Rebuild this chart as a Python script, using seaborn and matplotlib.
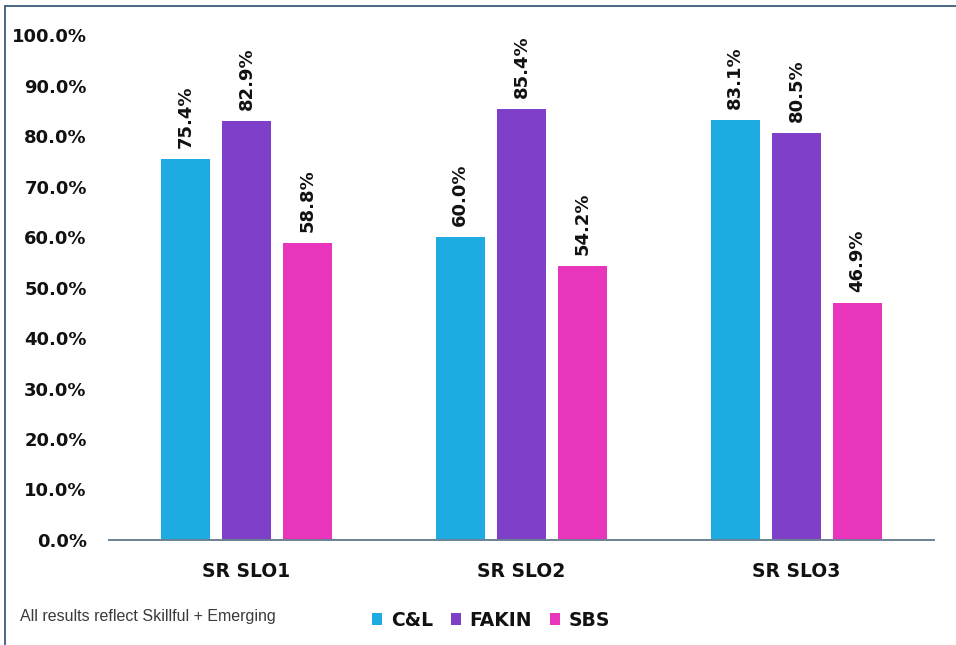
import matplotlib
matplotlib.use("Agg")
import matplotlib.pyplot as plt
from matplotlib.lines import Line2D
import pandas as pd
import seaborn as sns

# Share of students rated Skillful + Emerging, per SLO and department
categories = ["SR SLO1", "SR SLO2", "SR SLO3"]
programs = ["C&L", "FAKIN", "SBS"]
cl_values = [75.4, 60.0, 83.1]
fakin_values = [82.9, 85.4, 80.5]
sbs_values = [58.8, 54.2, 46.9]
y_ticks = [0, 10, 20, 30, 40, 50, 60, 70, 80, 90, 100]
footnote = "All results reflect Skillful + Emerging"

palette = {"C&L": "#1DABE1", "FAKIN": "#7E3FC9", "SBS": "#E935BC"}

df = pd.DataFrame({
    "slo": categories * 3,
    "program": [programs[0]] * 3 + [programs[1]] * 3 + [programs[2]] * 3,
    "value": cl_values + fakin_values + sbs_values,
})

sns.set_theme(style="white")
plt.rcParams["font.family"] = ["DejaVu Sans"]

fig = plt.figure(figsize=(9.56, 6.45), dpi=100)
ax = fig.add_axes([109 / 956, 105 / 645, 825 / 956, 505 / 645])

sns.barplot(data=df, x="slo", y="value", hue="program", hue_order=programs,
            order=categories, palette=palette, saturation=1, width=0.667,
            gap=0.21, linewidth=0, errorbar=None, ax=ax)

ax.set_xlim(-0.5, 2.5)
ax.set_ylim(0, 100)
ax.set_yticks(y_ticks)
ax.set_yticklabels([f"{t:.1f}%" for t in y_ticks], fontsize=13, fontweight="bold",
                   color="#111111")
ax.tick_params(axis="y", length=0, pad=16)
ax.tick_params(axis="x", length=0, pad=16, labelsize=13.5, labelcolor="#111111")
for lab in ax.get_xticklabels():
    lab.set_fontweight("bold")
ax.set_xlabel("")
ax.set_ylabel("")

for side in ["top", "right", "left"]:
    ax.spines[side].set_visible(False)
ax.spines["bottom"].set_color("#6B8193")
ax.spines["bottom"].set_linewidth(1.4)

for container in ax.containers:
    ax.bar_label(container, labels=[f"{v:.1f}%" for v in container.datavalues],
                 rotation=90, padding=8, fontsize=13, fontweight="bold",
                 color="#111111")

handles, labels = ax.get_legend_handles_labels()
ax.get_legend().remove()
fig.legend(handles, labels, loc="center", bbox_to_anchor=(491 / 956, 1 - 620 / 645),
           ncol=3, frameon=False, handlelength=0.55, handleheight=0.55,
           handletextpad=0.45, columnspacing=0.95, labelcolor="#111111",
           prop={"size": 13.5, "weight": "bold"})

fig.text(20 / 956, 1 - 616 / 645, footnote, ha="left", va="center", fontsize=11.5,
         color="#3A3A3A", family=["Liberation Sans", "DejaVu Sans"])

# Outer frame lines
frame_color = "#3D5C7A"
fig.add_artist(Line2D([5 / 956, 1.0], [1 - 6 / 645, 1 - 6 / 645],
                      transform=fig.transFigure, color=frame_color, lw=1.3))
fig.add_artist(Line2D([5 / 956, 5 / 956], [0.0, 1 - 6 / 645],
                      transform=fig.transFigure, color=frame_color, lw=1.3))

fig.savefig("out.png", dpi=100, facecolor="white")
